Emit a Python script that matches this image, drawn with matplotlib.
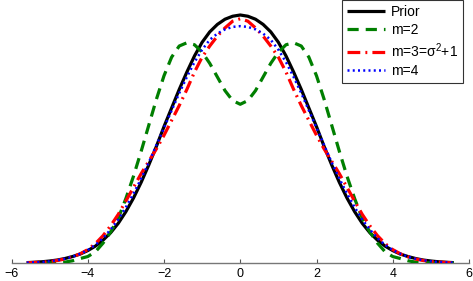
import matplotlib
matplotlib.use("Agg")
import matplotlib.pyplot as plt

plt.rcParams['font.family'] = ['Liberation Sans', 'DejaVu Sans']
plt.rcParams['mathtext.default'] = 'regular'

x = [-5.6, -5.4, -5.2, -5.0, -4.8, -4.6, -4.4, -4.2, -4.0, -3.8, -3.6, -3.4, -3.2, -3.0,
     -2.8, -2.6, -2.4, -2.2, -2.0, -1.8, -1.6, -1.4, -1.2, -1.0, -0.8, -0.6, -0.4, -0.2,
     0.0, 0.2, 0.4, 0.6, 0.8, 1.0, 1.2, 1.4, 1.6, 1.8, 2.0, 2.2, 2.4, 2.6, 2.8, 3.0,
     3.2, 3.4, 3.6, 3.8, 4.0, 4.2, 4.4, 4.6, 4.8, 5.0, 5.2, 5.4, 5.6]

prior = [0.0015, 0.003, 0.005, 0.008, 0.012, 0.018, 0.026, 0.036, 0.050, 0.068, 0.092, 0.122, 0.160, 0.207,
         0.262, 0.325, 0.395, 0.470, 0.550, 0.625, 0.700, 0.770, 0.835, 0.890, 0.932, 0.962, 0.983, 0.995,
         1.000, 0.995, 0.983, 0.962, 0.932, 0.890, 0.835, 0.770, 0.700, 0.625, 0.550, 0.470, 0.395, 0.325,
         0.262, 0.207, 0.160, 0.122, 0.092, 0.068, 0.050, 0.036, 0.026, 0.018, 0.012, 0.008, 0.005, 0.003, 0.0015]

m2 = [0.0, 0.0001, 0.0003, 0.0007, 0.0015, 0.0035, 0.009, 0.018, 0.026, 0.045, 0.080, 0.125, 0.180, 0.260,
      0.350, 0.450, 0.555, 0.660, 0.755, 0.830, 0.875, 0.888, 0.880, 0.850, 0.805, 0.750, 0.695, 0.655,
      0.640, 0.655, 0.695, 0.750, 0.805, 0.850, 0.880, 0.888, 0.875, 0.830, 0.755, 0.660, 0.555, 0.450,
      0.350, 0.260, 0.180, 0.125, 0.080, 0.045, 0.026, 0.018, 0.009, 0.0035, 0.0015, 0.0007, 0.0003, 0.0001, 0.0]

m3 = [0.001, 0.002, 0.0035, 0.006, 0.010, 0.016, 0.025, 0.037, 0.054, 0.078, 0.110, 0.150, 0.196, 0.250,
      0.305, 0.360, 0.410, 0.460, 0.515, 0.575, 0.635, 0.700, 0.770, 0.830, 0.875, 0.915, 0.948, 0.975,
      0.985, 0.975, 0.948, 0.915, 0.875, 0.830, 0.770, 0.700, 0.635, 0.575, 0.515, 0.460, 0.410, 0.360,
      0.305, 0.250, 0.196, 0.150, 0.110, 0.078, 0.054, 0.037, 0.025, 0.016, 0.010, 0.006, 0.0035, 0.002, 0.001]

m4 = [0.0015, 0.0025, 0.004, 0.007, 0.011, 0.017, 0.025, 0.037, 0.052, 0.073, 0.100, 0.135, 0.175, 0.225,
      0.280, 0.340, 0.405, 0.475, 0.545, 0.615, 0.685, 0.750, 0.810, 0.860, 0.900, 0.925, 0.942, 0.952,
      0.955, 0.952, 0.942, 0.925, 0.900, 0.860, 0.810, 0.750, 0.685, 0.615, 0.545, 0.475, 0.405, 0.340,
      0.280, 0.225, 0.175, 0.135, 0.100, 0.073, 0.052, 0.037, 0.025, 0.017, 0.011, 0.007, 0.004, 0.0025, 0.0015]

labels = ['Prior', 'm=2', 'm=3=σ$^2$+1', 'm=4']
xticks = [-6, -4, -2, 0, 2, 4, 6]

W, H = 473, 281
fig = plt.figure(figsize=(W / 100, H / 100), dpi=100)
ax = fig.add_axes([11.5 / W, 1 - 263 / H, (469 - 11.5) / W, 263 / H])

ax.plot(x, prior, color='black', lw=2.3, solid_capstyle='butt', label=labels[0], zorder=2)
ax.plot(x, m2, color='#007f00', lw=2.3, dashes=(3.5, 2.2), label=labels[1], zorder=3)
ax.plot(x, m3, color='red', lw=2.3, dashes=(4.0, 1.6, 0.6, 1.6), label=labels[2], zorder=4)
ax.plot(x, m4, color='blue', lw=1.8, dashes=(0.8, 1.3), label=labels[3], zorder=5)

ax.set_xlim(-6, 6)
ax.set_ylim(0, 263 / 248)
ax.set_xticks(xticks)
ax.set_xticklabels([('\u2212' + str(abs(t))) if t < 0 else str(t) for t in xticks], fontsize=9)
ax.set_yticks([])
for s in ['left', 'right', 'top']:
    ax.spines[s].set_visible(False)
ax.spines['bottom'].set_color('#777777')
ax.spines['bottom'].set_linewidth(1.0)
ax.tick_params(axis='x', direction='in', length=3, width=0.8, color='#555555', pad=3.5)

leg = ax.legend(loc='upper right', bbox_to_anchor=(463 / W, 1.0), bbox_transform=fig.transFigure,
                borderaxespad=0, fontsize=10, frameon=True, fancybox=False, handlelength=2.8,
                handletextpad=0.4, labelspacing=0.3, borderpad=0.35)
leg.get_frame().set_edgecolor('black')
leg.get_frame().set_linewidth(0.8)

fig.savefig('out.png', dpi=100)
